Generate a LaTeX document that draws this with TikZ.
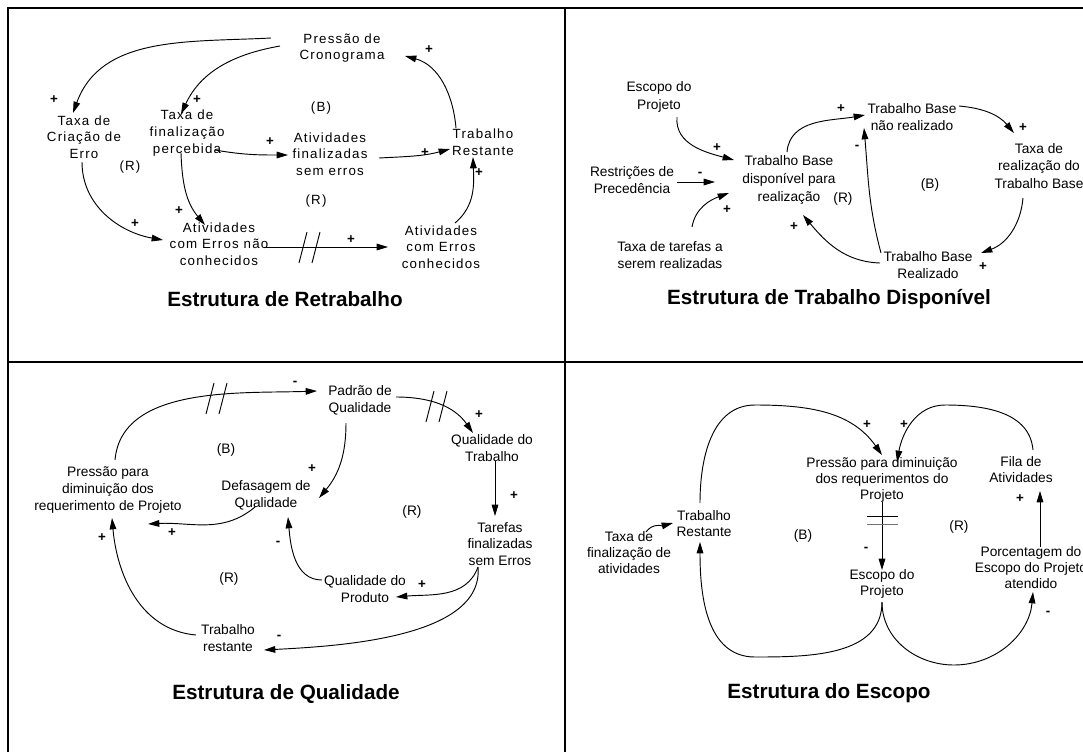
\documentclass[tikz,border=0pt]{standalone}
\usepackage{fontspec}
\setmainfont{Liberation Sans}
\newfontfamily\widefont[LetterSpace = 9]{Liberation Sans}
\usetikzlibrary{arrows.meta}

\tikzset{
	var/.style = {align = center, inner sep = 1pt, font = \fontsize{10.3}{12.5}\selectfont},
	var2/.style = {align = center, inner sep = 1pt, font = \fontsize{10.3}{13.3}\selectfont},
	var4/.style = {align = center, inner sep = 1pt, font = \fontsize{10.3}{12}\selectfont},
	wvar/.style = {align = center, inner sep = 1pt, font = \widefont\fontsize{10}{12.5}\selectfont},
	pol/.style = {inner sep = 0pt, font = \bfseries\fontsize{10}{10}\selectfont},
	lbl/.style = {inner sep = 0pt, font = \fontsize{10.3}{12}\selectfont},
	title/.style = {inner sep = 0pt, font = \bfseries\fontsize{15.5}{18}\selectfont},
	link/.style = {->, line width = 0.7pt},
	frame/.style = {line width = 1.5pt},
	delayline/.style = {-, line width = 0.7pt},
	slashes/.pic = {\draw [delayline] (-10,-16) -- (-2,15) (3,-16) -- (11,15);},
	bars/.pic = {\draw [delayline] (-15,3.5) -- (16,3.5); \draw [delayline, black!55] (-15,-4) -- (16,-4);}
}

\begin{document}
\begin{tikzpicture}[x = 0.75pt, y = 0.75pt, > = {Triangle[length = 8.5pt, width = 5pt]}]

	% Page and frame

	\useasboundingbox (0,0) rectangle (1083,-751);
	\draw [frame] (7.5,-7.5) rectangle (1100,-760);
	\draw [frame] (564.5,-7.5) -- (564.5,-760);
	\draw [frame] (7.5,-362) -- (1100,-362);

	% Estrutura de Retrabalho

	\node [wvar] (pcron) at (342,-48) {Pressão de\\Cronograma};
	\node [wvar] (txerro) at (84,-137) {Taxa de\\Criação de\\Erro};
	\node [wvar] (txfin) at (187,-133) {Taxa de\\finalização\\percebida};
	\node [wvar] (afin) at (330,-154) {Atividades\\finalizadas\\sem erros};
	\node [wvar] (trest) at (483,-142) {Trabalho\\Restante};
	\node [wvar] (aerrnc) at (219,-244) {Atividades\\com Erros não\\conhecidos};
	\node [wvar] (aerrc) at (441,-247) {Atividades\\com Erros\\conhecidos};

	\draw [link] ([shift = {(-71,10)}]pcron.center) to [out = 183, in = 70] ([shift = {(-11,24)}]txerro.center);
	\draw [link] ([shift = {(-62,2)}]pcron.center) to [out = 190, in = 65] ([shift = {(-6,19)}]txfin.center);
	\draw [link] ([shift = {(-27,14)}]trest.center) to [out = 95, in = -15] ([shift = {(63,-8)}]pcron.center);
	\draw [link] ([shift = {(28,-17)}]txfin.center) to [out = -10, in = 180] ([shift = {(-42,-1)}]afin.center);
	\draw [link] ([shift = {(49,-4)}]afin.center) to [out = 3, in = 195] ([shift = {(-33,-7)}]trest.center);
	\draw [link] ([shift = {(-2,-25)}]txerro.center) to [out = -90, in = 170] ([shift = {(-56,4)}]aerrnc.center);
	\draw [link] ([shift = {(-6,-20)}]txfin.center) to [out = -88, in = 130] ([shift = {(-14,19)}]aerrnc.center);
	\draw [link] ([shift = {(45,-3)}]aerrnc.center) -- ([shift = {(-53,0)}]aerrc.center);
	\draw [link] ([shift = {(14,24)}]aerrc.center) to [out = 40, in = -88] ([shift = {(-10,-15)}]trest.center);
	\pic at (309,-247) {slashes};

	\foreach \x/\y/\s [count = \i] in {429/50/+, 54/100/+, 197/100/+, 270/142/+, 425/153/+, 479/173/+, 179/211/+, 135/224/+, 351/240/+}
		\node [pol] (ra\i) at (\x,-\y) {\s};

	\foreach \x/\y/\s [count = \i] in {321/108/B, 130/167/R, 316/201/R}
		\node [lbl, font = \widefont\fontsize{10}{12}\selectfont] (la\i) at (\x,-\y) {(\s)};

	\node [title] (ta) at (285,-299) {Estrutura de Retrabalho};

	% Estrutura de Trabalho Disponivel

	\node [var2] (escq) at (659,-97) {Escopo do\\Projeto};
	\node [var2] (restr) at (632,-180) {Restrições de\\Precedência};
	\node [var2] (txtar) at (670,-255) {Taxa de tarefas a\\serem realizadas};
	\node [var2] (tbdisp) at (789,-180) {Trabalho Base\\disponível para\\realização};
	\node [var2] (tbnr) at (912,-117) {Trabalho Base\\não realizado};
	\node [var2] (txreal) at (1039,-166) {Taxa de\\realização do\\Trabalho Base};
	\node [var2] (tbreal) at (928,-265) {Trabalho Base\\Realizado};

	\draw [link] ([shift = {(18,-20)}]escq.center) to [out = -95, in = 165] ([shift = {(-55,20)}]tbdisp.center);
	\draw [link] ([shift = {(45,-2)}]restr.center) -- ([shift = {(-74,-2)}]tbdisp.center);
	\draw [link] ([shift = {(22,28)}]txtar.center) to [out = 80, in = 200] ([shift = {(-60,-13)}]tbdisp.center);
	\draw [link] ([shift = {(-2,28)}]tbdisp.center) to [out = 85, in = 190] ([shift = {(-47,2)}]tbnr.center);
	\draw [link] ([shift = {(47,11)}]tbnr.center) to [out = -5, in = 130] ([shift = {(-25,33)}]txreal.center);
	\draw [link] ([shift = {(-16,-32)}]txreal.center) to [out = -95, in = 20] ([shift = {(53,12)}]tbreal.center);
	\draw [link] ([shift = {(-47,12)}]tbreal.center) to [out = 105, in = -85] ([shift = {(-48,-11)}]tbnr.center);
	\draw [link] ([shift = {(-48,2)}]tbreal.center) to [out = 178, in = -50] ([shift = {(14,-35)}]tbdisp.center);

	\foreach \x/\y/\s [count = \i] in {700/174/-, 717/148/+, 727/210/+, 841/109/+, 857/147/-, 1023/128/+, 983/267/+, 794/227/+}
		\node [pol] (rb\i) at (\x,-\y) {\s};

	\foreach \x/\y/\s [count = \i] in {843/199/R, 930/185/B}
		\node [lbl] (lb\i) at (\x,-\y) {(\s)};

	\node [title] (tb) at (829,-299) {Estrutura de Trabalho Disponível};

	% Estrutura de Qualidade

	\node [var] (padrao) at (360,-400) {Padrão de\\Qualidade};
	\node [var] (qtrab) at (492,-448) {Qualidade do\\Trabalho};
	\node [var] (tfin) at (500,-544) {Tarefas\\finalizadas\\sem Erros};
	\node [var] (pressao) at (108,-490) {Pressão para\\diminuição dos\\requerimento de Projeto};
	\node [var] (defas) at (266,-495) {Defasagem de\\Qualidade};
	\node [var] (qprod) at (365,-589) {Qualidade do\\Produto};
	\node [var] (trestc) at (228,-638) {Trabalho\\restante};

	\draw [link] ([shift = {(7,30)}]pressao.center) to [out = 85, in = 182, looseness = 0.9] ([shift = {(-43,9)}]padrao.center);
	\draw [link] ([shift = {(36,3)}]padrao.center) to [out = 0, in = 125] ([shift = {(-19,15)}]qtrab.center);
	\draw [link] ([shift = {(-14,-23)}]padrao.center) to [out = -90, in = 50] ([shift = {(53,-3)}]defas.center);
	\draw [link] ([shift = {(-11,-12)}]defas.center) to [out = -140, in = 3] ([shift = {(40,-34)}]pressao.center);
	\draw [link] ([shift = {(3,-13)}]qtrab.center) -- ([shift = {(-5,28)}]tfin.center);
	\draw [link] ([shift = {(-22,-23)}]tfin.center) to [out = -110, in = 5] ([shift = {(31,-8)}]qprod.center);
	\draw [link] ([shift = {(-22,-23)}]tfin.center) to [out = -85, in = 3, looseness = 0.8] ([shift = {(36,-12)}]trestc.center);
	\draw [link] ([shift = {(-43,9)}]qprod.center) to [out = 180, in = -85] ([shift = {(22,-22)}]defas.center);
	\draw [link] ([shift = {(-32,3)}]trestc.center) to [out = 175, in = -85] ([shift = {(4,-28)}]pressao.center);
	\pic at (216,-398) {slashes};
	\pic at (436,-406) {slashes};

	\foreach \x/\y/\s [count = \i] in {295/383/-, 479/415/+, 514/496/+, 312/469/+, 172/533/+, 102/538/+, 278/543/-, 422/585/+, 279/637/-}
		\node [pol] (rc\i) at (\x,-\y) {\s};

	\foreach \x/\y/\s [count = \i] in {226/450/B, 412/512/R, 229/579/R}
		\node [lbl] (lc\i) at (\x,-\y) {(\s)};

	\node [title] (tc) at (286,-694) {Estrutura de Qualidade};

	% Estrutura do Escopo

	\node [var4] (pdim) at (882,-480) {Pressão para diminuição\\dos requerimentos do\\Projeto};
	\node [var4] (fila) at (1021,-470) {Fila de\\Atividades};
	\node [var4] (trestd) at (704,-524) {Trabalho\\Restante};
	\node [var4] (txfa) at (629,-553) {Taxa de\\finalização de\\atividades};
	\node [var4] (escd) at (882,-584) {Escopo do\\Projeto};
	\node [var4] (porc) at (1031,-568) {Porcentagem do\\Escopo do Projeto\\atendido};

	\coordinate (lowB) at (755,-657);
	\coordinate (lowR) at (954,-665);
	\coordinate (topB) at (755,-405);
	\coordinate (topR) at (945,-405);

	\draw [link] ([shift = {(0,-18)}]escd.center) to [out = -90, in = 0] (lowB) to [out = 180, in = -90] ([shift = {(-4,-18)}]trestd.center);
	\draw [link] ([shift = {(-4,21)}]trestd.center) to [out = 90, in = 180] (topB) to [out = 0, in = 125] ([shift = {(0,25)}]pdim.center);
	\draw [link] ([shift = {(0,-22)}]pdim.center) -- ([shift = {(0,14)}]escd.center);
	\draw [link] ([shift = {(0,-18)}]escd.center) to [out = -90, in = 180] (lowR) to [out = 0, in = -95] ([shift = {(2,-24)}]porc.center);
	\draw [link] ([shift = {(9,21)}]porc.center) -- ([shift = {(19,-21)}]fila.center);
	\draw [link] ([shift = {(12,20)}]fila.center) to [out = 95, in = 0] (topR) to [out = 180, in = 80] ([shift = {(15,18)}]pdim.center);
	\draw [link] ([shift = {(17,21)}]txfa.center) to [out = 55, in = 195] ([shift = {(-31,1)}]trestd.center);
	\pic at (882,-520) {bars};

	\foreach \x/\y/\s [count = \i] in {867/425/+, 904/425/+, 1020/499/+, 866/549/-, 1048/613/-}
		\node [pol] (rd\i) at (\x,-\y) {\s};

	\foreach \x/\y/\s [count = \i] in {803/536/B, 959/527/R}
		\node [lbl] (ld\i) at (\x,-\y) {(\s)};

	\node [title] (td) at (829,-693) {Estrutura do Escopo};

\end{tikzpicture}
\end{document}
